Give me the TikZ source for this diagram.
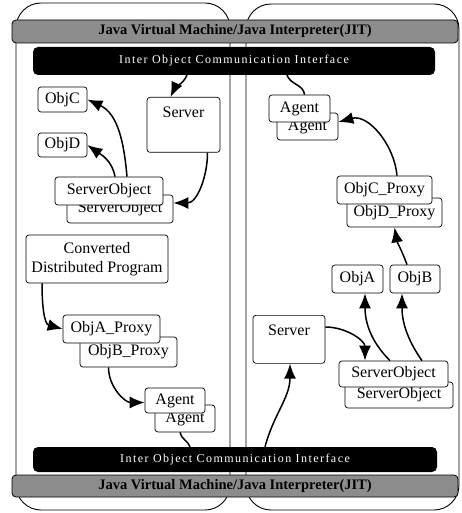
\documentclass[tikz,border=0pt]{standalone}
\usepackage{fontspec}
\setmainfont{Liberation Serif}
\newfontfamily\barfont[LetterSpace=12]{Liberation Serif}
\usetikzlibrary{arrows.meta}
\begin{document}
\begin{tikzpicture}[x=1pt,y=-1pt,
  panel/.style={draw,line width=0.9pt,rounded corners=25pt},
  greybar/.style={draw,line width=0.8pt,fill=black!45,rounded corners=4pt,inner sep=0pt,
     font=\fontsize{14.5}{16}\selectfont\bfseries},
  blackbar/.style={fill=black,rounded corners=5pt,inner sep=0pt,text=white,
     font=\barfont\fontsize{12}{14}\selectfont},
  box/.style={draw,fill=white,line width=0.7pt,rounded corners=3pt,inner sep=0pt,
     font=\fontsize{16}{19}\selectfont},
  conn/.style={line width=1.5pt},
  arr/.style={conn,-{Latex[length=15pt,width=12pt]}}]
\useasboundingbox (0,0) rectangle (462,513);
% panels
\draw[panel] (16,3) rectangle (230,510);
\draw[panel] (246,4) rectangle (459,510);
% bars
\node[greybar,minimum width=446pt,minimum height=23pt] (topgrey) at (235,31.5)
  {Java Virtual Machine/Java Interpreter(JIT)};
\node[greybar,minimum width=446pt,minimum height=22pt] (botgrey) at (235,486)
  {Java Virtual Machine/Java Interpreter(JIT)};
\node[blackbar,minimum width=402pt,minimum height=28pt] (topbar) at (234,61)
  {Inter Object Communication Interface};
\node[blackbar,minimum width=404pt,minimum height=25pt] (botbar) at (235,459.5)
  {Inter Object Communication Interface};
% left panel nodes
\node[box,minimum width=49pt,minimum height=25pt] (objC) at (62.5,99.5) {ObjC};
\node[box,minimum width=49pt,minimum height=24pt] (objD) at (62.5,145) {ObjD};
\node[box,minimum width=73pt,anchor=north,text height=20pt,text depth=35pt] (lserver) at (183.5,97) {Server};
\node[box,minimum width=106pt,minimum height=28pt] (lsob) at (120,209) {ServerObject};
\node[box,minimum width=108pt,minimum height=28pt] (lsof) at (109,191) {ServerObject};
\node[box,minimum width=142pt,minimum height=48pt,align=center] (conv) at (97,259)
  {Converted\\Distributed Program};
\node[box,minimum width=97pt,minimum height=30pt] (objBp) at (128.5,352) {ObjB\_Proxy};
\node[box,minimum width=97pt,minimum height=28pt] (objAp) at (111.5,329) {ObjA\_Proxy};
\node[box,minimum width=60pt,minimum height=27pt] (lagb) at (185,418.5) {Agent};
\node[box,minimum width=60pt,minimum height=25pt] (lagf) at (175,400.5) {Agent};
% right panel nodes
\node[box,minimum width=61pt,minimum height=27pt] (ragb) at (307.5,126.5) {Agent};
\node[box,minimum width=61pt,minimum height=27pt] (ragf) at (299.5,108.5) {Agent};
\node[box,minimum width=95pt,minimum height=29pt] (objDp) at (394.5,212.5) {ObjD\_Proxy};
\node[box,minimum width=95pt,minimum height=28pt] (objCp) at (384.5,190) {ObjC\_Proxy};
\node[box,minimum width=51pt,minimum height=28pt] (objA) at (357.5,279) {ObjA};
\node[box,minimum width=50pt,minimum height=28pt] (objB) at (415,279) {ObjB};
\node[box,minimum width=72pt,anchor=north,text height=20pt,text depth=28pt] (rserver) at (289,315) {Server};
\node[box,minimum width=108pt,minimum height=26pt] (rsob) at (399,395) {ServerObject};
\node[box,minimum width=109pt,minimum height=26pt] (rsof) at (393.5,374) {ServerObject};
% left connectors
\draw[arr] ([xshift=-47pt]topbar.south) to[out=-115,in=65] ([xshift=-13pt]lserver.north);
\draw[arr] ([xshift=24pt]lserver.south) to[out=-90,in=0] ([yshift=6pt]lsob.east);
\draw[arr] ([xshift=18pt]lsof.north) to[out=95,in=-25] (objC.east);
\draw[arr] ([xshift=6pt]lsof.north) to[out=100,in=-35] (objD.east);
\draw[arr] ([xshift=-55pt]conv.south) to[out=-90,in=165] (objAp.west);
\draw[arr] ([xshift=-20pt]objBp.south) to[out=-90,in=180] ([yshift=-2pt]lagf.west);
\draw[conn] ([xshift=-5pt]lagb.south) to[out=-80,in=110] ([xshift=-45pt]botbar.north);
% right connectors
\draw[conn] ([xshift=53pt]topbar.south) to[out=-70,in=95] ([xshift=5pt]ragf.north);
\draw[arr] ([xshift=12.5pt]objCp.north) to[out=95,in=15] ([yshift=4.5pt]ragb.east);
\draw[arr] ([xshift=-8pt]objB.north) to[out=110,in=-80] (objDp.south);
\draw[arr] ([xshift=-3.5pt]rsof.north) to[out=135,in=-90] ([xshift=7.5pt]objA.south);
\draw[arr] ([xshift=28.5pt]rsof.north) to[out=125,in=-90] ([xshift=-13pt]objB.south);
\draw[arr] ([yshift=-12pt]rserver.north east) to[out=0,in=90] ([xshift=-28.5pt]rsof.north);
\draw[arr] ([xshift=30pt]botbar.north) to[out=75,in=-90] ([xshift=1pt]rserver.south);
\end{tikzpicture}
\end{document}
